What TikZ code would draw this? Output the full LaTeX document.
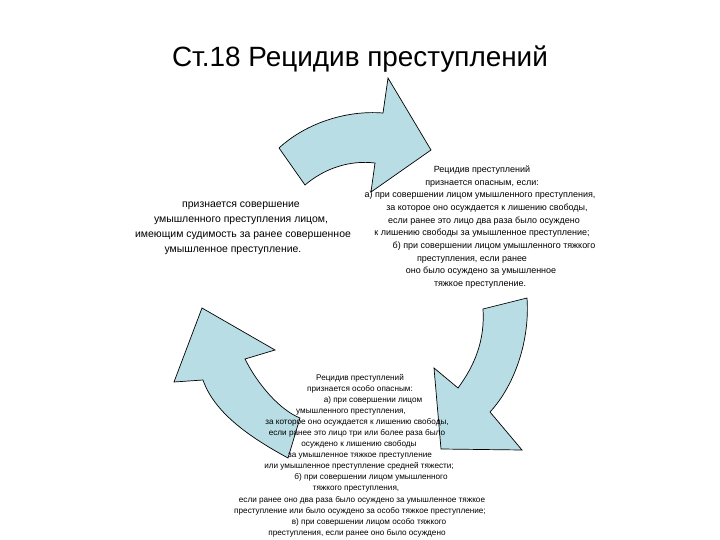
\documentclass[tikz,border=0pt]{standalone}
\usepackage{fontspec}
\setmainfont{Liberation Sans}
\definecolor{arrowblue}{RGB}{185,221,228}
\begin{document}
\begin{tikzpicture}[x=1bp,y=-1bp,
  arrowshape/.style={draw=black, line width=0.7bp, fill=arrowblue, line join=miter},
  titletext/.style={anchor=base, inner sep=0pt, font=\fontsize{28}{30}\selectfont},
  lefttext/.style={anchor=base, inner sep=0pt, font=\fontsize{10.5}{12}\selectfont},
  righttext/.style={anchor=base, inner sep=0pt, font=\fontsize{9}{11}\selectfont},
  bottomtext/.style={anchor=base, inner sep=0pt, font=\fontsize{8.2}{10}\selectfont}]
\useasboundingbox (0,0) rectangle (720,540);

% arrows
\draw[arrowshape] (279,148) .. controls (305,124) and (345,110) .. (383,113) -- (388,78) -- (431,150) -- (371,192) -- (375,163) .. controls (350,160) and (325,168) .. (305,185) -- cycle;
\draw[arrowshape] (527,298) .. controls (530,340) and (515,385) .. (490,412) -- (522,450) -- (441,449) -- (434,368) -- (458,388) .. controls (475,365) and (485,340) .. (483,309) -- cycle;
\draw[arrowshape] (288,458) .. controls (255,440) and (215,415) .. (203,380) -- (174,382) -- (202,308) -- (275,350) -- (245,359) .. controls (258,385) and (280,410) .. (300,418) -- cycle;

% title
\node[titletext] (title) at (360,67) {Ст.18 Рецидив преступлений};

% left text
\node[lefttext] (l1) at (241,208) {признается совершение};
\node[lefttext] (l2) at (241,223) {умышленного преступления лицом,};
\node[lefttext] (l3) at (243,238) {имеющим судимость за ранее совершенное};
\node[lefttext] (l4) at (233,253) {умышленное преступление.};

% right text
\node[righttext] (r1) at (482,172.5) {Рецидив преступлений};
\node[righttext] (r2) at (482,185.2) {признается опасным, если:};
\node[righttext] (r3) at (480,197.8) {а) при совершении лицом умышленного преступления,};
\node[righttext] (r4) at (487,210.5) {за которое оно осуждается к лишению свободы,};
\node[righttext] (r5) at (484,223.2) {если ранее это лицо два раза было осуждено};
\node[righttext] (r6) at (482,235.8) {к лишению свободы за умышленное преступление;};
\node[righttext] (r7) at (494,248.5) {б) при совершении лицом умышленного тяжкого};
\node[righttext] (r8) at (472,261.2) {преступления, если ранее};
\node[righttext] (r9) at (481,273.8) {оно было осуждено за умышленное};
\node[righttext] (r10) at (480,286.5) {тяжкое преступление.};

% bottom text
\node[bottomtext] (b1) at (360,380.2) {Рецидив преступлений};
\node[bottomtext] (b2) at (360,391.3) {признается особо опасным:};
\node[bottomtext] (b3) at (373,402.3) {а) при совершении лицом};
\node[bottomtext] (b4) at (351,413.4) {умышленного преступления,};
\node[bottomtext] (b5) at (357,424.5) {за которое оно осуждается к лишению свободы,};
\node[bottomtext] (b6) at (357,435.6) {если ранее это лицо три или более раза было};
\node[bottomtext] (b7) at (359,446.6) {осуждено к лишению свободы};
\node[bottomtext] (b8) at (360,457.7) {за умышленное тяжкое преступление};
\node[bottomtext] (b9) at (359,468.8) {или умышленное преступление средней тяжести;};
\node[bottomtext] (b10) at (371,479.8) {б) при совершении лицом умышленного};
\node[bottomtext] (b11) at (356,490.9) {тяжкого преступления,};
\node[bottomtext] (b12) at (362,502.0) {если ранее оно два раза было осуждено за умышленное тяжкое};
\node[bottomtext] (b13) at (360,513.0) {преступление или было осуждено за особо тяжкое преступление;};
\node[bottomtext] (b14) at (369,524.1) {в) при совершении лицом особо тяжкого};
\node[bottomtext] (b15) at (357,535.2) {преступления, если ранее оно было осуждено};
\end{tikzpicture}
\end{document}
